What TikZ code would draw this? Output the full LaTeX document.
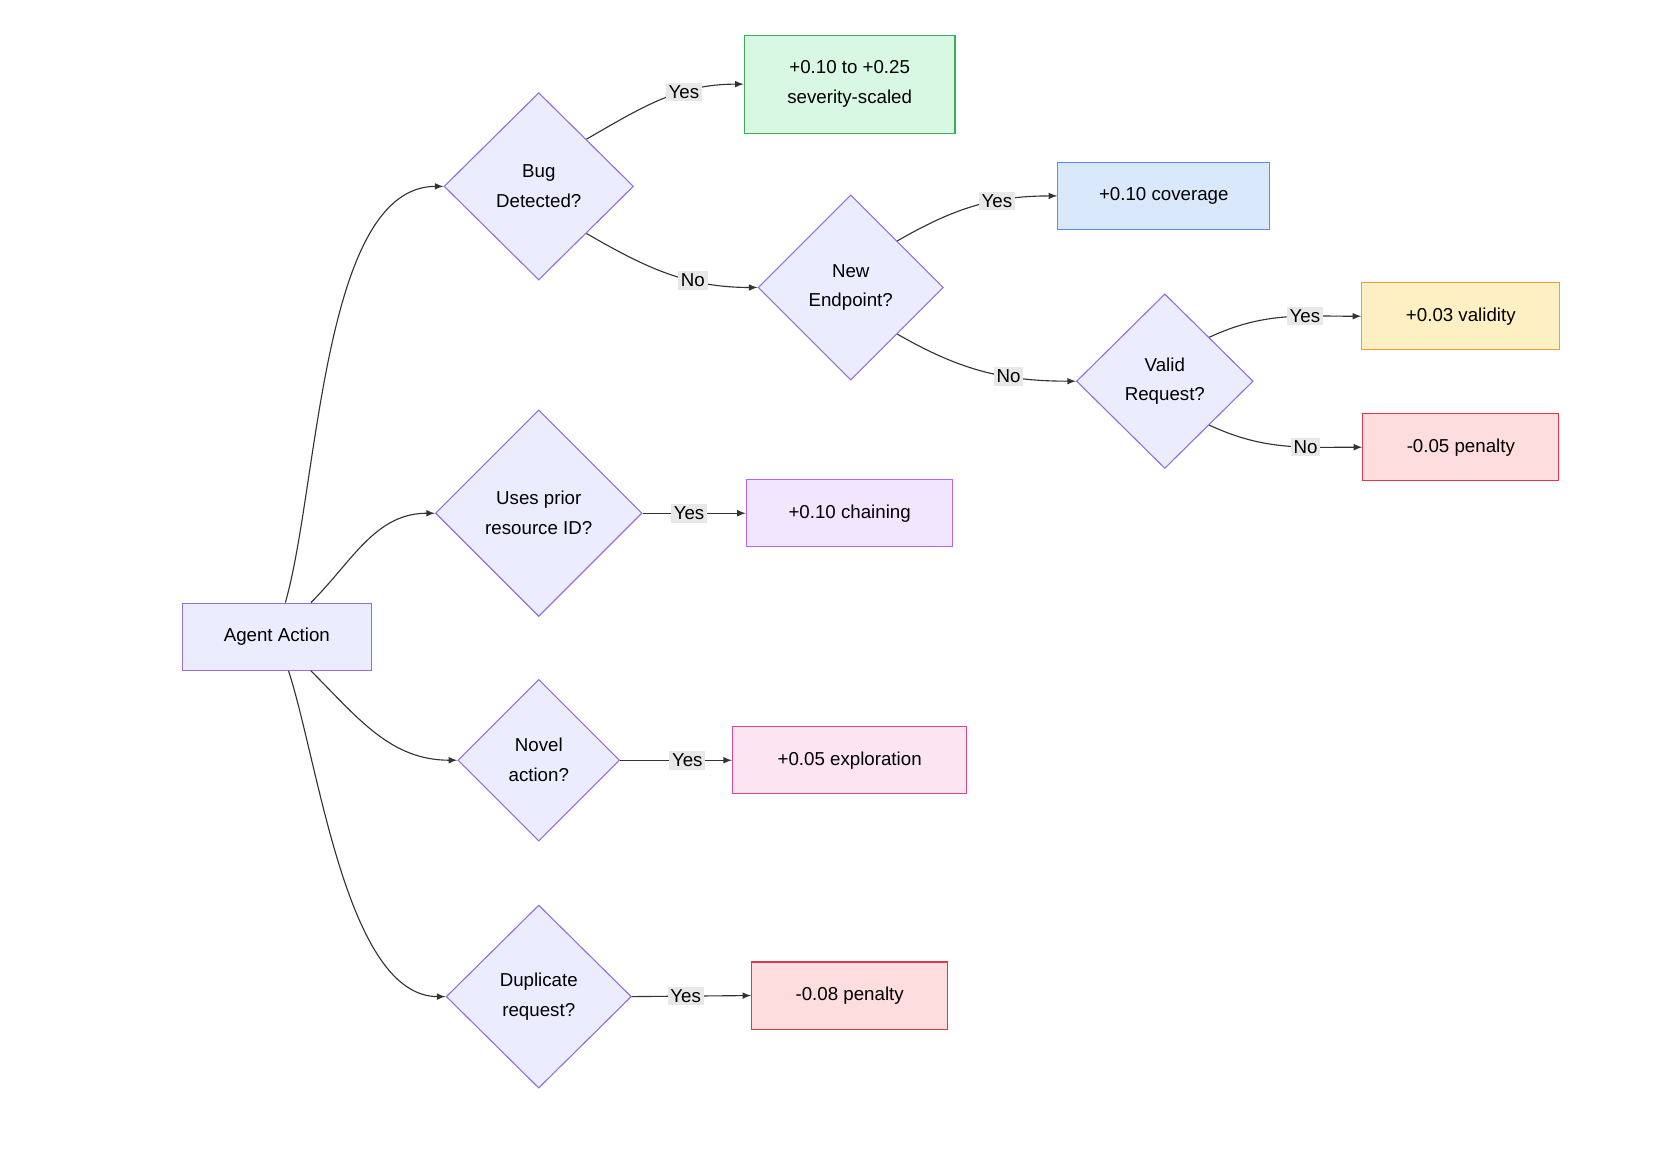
\documentclass[tikz,border=0pt]{standalone}
\usepackage{fontspec}
\setmainfont{Liberation Sans}
\usetikzlibrary{shapes.geometric, positioning}
\definecolor{dfill}{HTML}{ECECFF}
\definecolor{dline}{HTML}{9370DB}
\definecolor{gfill}{HTML}{D9F8E4}\definecolor{gline}{HTML}{3DAA5C}
\definecolor{bfill}{HTML}{DAE8FC}\definecolor{bline}{HTML}{5B8DEF}
\definecolor{yfill}{HTML}{FEF0C3}\definecolor{yline}{HTML}{F09A3E}
\definecolor{rfill}{HTML}{FDDDDD}\definecolor{rline}{HTML}{E0384A}
\definecolor{pfill}{HTML}{F2E5FE}\definecolor{pline}{HTML}{B366F0}
\definecolor{kfill}{HTML}{FCE4F1}\definecolor{kline}{HTML}{E0448A}
\tikzset{
	base/.style={draw=dline,fill=dfill,font=\fontsize{10}{16}\selectfont,align=center,inner sep=0pt},
	dia/.style={base,diamond},
	box/.style={base,rectangle,minimum height=1.26cm},
	lbl/.style={fill=black!9,font=\fontsize{10}{12}\selectfont,inner sep=1.5pt},
	arr/.style={-latex,draw=black!80,line width=0.6pt}
}
\begin{document}
\begin{tikzpicture}[x=0.02cm,y=-0.02cm,line width=0.6pt]
	\useasboundingbox (0,0) rectangle (1560,1090);
	% decisions
	\node[box,minimum width=3.56cm] (agent) at (260,598) {Agent Action};
	\node[dia,minimum width=3.56cm,minimum height=3.52cm] (bug) at (506,175) {Bug\\Detected?};
	\node[dia,minimum width=3.48cm,minimum height=3.48cm] (newep) at (799,270) {New\\Endpoint?};
	\node[dia,minimum width=3.32cm,minimum height=3.28cm] (valid) at (1094,358) {Valid\\Request?};
	\node[dia,minimum width=3.88cm,minimum height=3.88cm] (uses) at (506,482) {Uses prior\\resource ID?};
	\node[dia,minimum width=3.04cm,minimum height=3.04cm] (novel) at (506,714) {Novel\\action?};
	\node[dia,minimum width=3.48cm,minimum height=3.44cm] (dup) at (506,936) {Duplicate\\request?};
	% rewards
	\node[box,minimum width=3.96cm,minimum height=1.84cm,fill=gfill,draw=gline] (bugrw) at (798,79) {+0.10 to +0.25\\severity-scaled};
	\node[box,minimum width=3.98cm,fill=bfill,draw=bline] (covrw) at (1093,184) {+0.10 coverage};
	\node[box,minimum width=3.72cm,fill=yfill,draw=yline] (valrw) at (1372,297) {+0.03 validity};
	\node[box,minimum width=3.68cm,fill=rfill,draw=rline] (invrw) at (1372,420) {-0.05 penalty};
	\node[box,minimum width=3.88cm,fill=pfill,draw=pline] (chainrw) at (798,482) {+0.10 chaining};
	\node[box,minimum width=4.40cm,fill=kfill,draw=kline] (explrw) at (798,714) {+0.05 exploration};
	\node[box,minimum width=3.68cm,fill=rfill,draw=rline] (duprw) at (798,935) {-0.08 penalty};
	% connectors
	\draw[arr] ([xshift=0.16cm]agent.north) to[out=74,in=180,looseness=0.7] (bug.west);
	\draw[arr] ([xshift=0.64cm]agent.north) to[out=45,in=180] (uses.west);
	\draw[arr] ([xshift=0.64cm]agent.south) to[out=-45,in=180] (novel.west);
	\draw[arr] ([xshift=0.22cm]agent.south) to[out=-72,in=180,looseness=0.7] (dup.west);
	\draw[arr] (bug.north east) to[out=30,in=180] node[lbl,pos=0.65] {Yes} (bugrw.west);
	\draw[arr] (bug.south east) to[out=-30,in=180] node[lbl,pos=0.65] {No} (newep.west);
	\draw[arr] (newep.north east) to[out=30,in=180] node[lbl,pos=0.65] {Yes} (covrw.west);
	\draw[arr] (newep.south east) to[out=-30,in=180] node[lbl,pos=0.65] {No} (valid.west);
	\draw[arr] (valid.north east) to[out=25,in=180] node[lbl,pos=0.65] {Yes} (valrw.west);
	\draw[arr] (valid.south east) to[out=-25,in=180] node[lbl,pos=0.65] {No} (invrw.west);
	\draw[arr] (uses.east) -- node[lbl,pos=0.45] {Yes} (chainrw.west);
	\draw[arr] (novel.east) -- node[lbl,pos=0.6] {Yes} (explrw.west);
	\draw[arr] (dup.east) -- node[lbl,pos=0.45] {Yes} (duprw.west);
\end{tikzpicture}
\end{document}
